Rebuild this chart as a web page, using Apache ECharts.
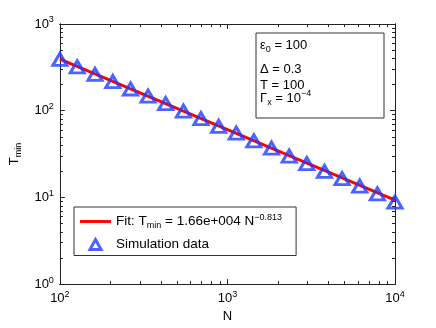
<!DOCTYPE html>
<html>
<head>
<meta charset="utf-8">
<script src="https://cdn.jsdelivr.net/npm/echarts@6/dist/echarts.min.js"></script>
<style>html,body{margin:0;padding:0;background:#fff}#main{width:436px;height:328px}</style>
</head>
<body>
<div id="main"></div>
<script>
// 模拟数据
var simN = [100, 127, 162, 207, 264, 336, 428, 546, 695, 886, 1129, 1438, 1833, 2336, 2976, 3793, 4833, 6158, 7848, 10000];
var simT = [390, 320, 262, 216, 178, 147, 121, 99, 81, 66, 55, 45, 37, 30, 24.5, 20, 16.5, 13.5, 11, 8.8];
// 拟合直线 (两端点)
var fitN = [100, 10000];
var fitT = [393, 9.3];
// 刻度
var xTicks = [100, 1000, 10000];
var yTicks = [1, 10, 100, 1000];
var xMinor = [200, 300, 400, 500, 600, 700, 800, 900, 2000, 3000, 4000, 5000, 6000, 7000, 8000, 9000];
var yMinor = [2, 3, 4, 5, 6, 7, 8, 9, 20, 30, 40, 50, 60, 70, 80, 90, 200, 300, 400, 500, 600, 700, 800, 900];

var font = 'Liberation Sans, Arial, sans-serif';
var blue = '#1e3cff';
var rich = {
    sup: { fontFamily: font, fontSize: 9, color: '#000', padding: [0, 0, 8, 0] },
    sub: { fontFamily: font, fontSize: 9, color: '#000', padding: [9, 0, 0, 0] }
};

function powLabel(v) {
    return '10{sup|' + Math.round(Math.log10(v)) + '}';
}

function logAxis(pos, min, max, ticks, len, label) {
    return {
        type: 'log',
        logBase: 10,
        min: min,
        max: max,
        position: pos,
        axisLine: { show: true, lineStyle: { color: '#222', width: 1 } },
        axisTick: { show: true, inside: true, length: len, customValues: ticks, lineStyle: { color: '#222', width: 1 } },
        axisLabel: label ? {
            show: true, customValues: ticks, formatter: powLabel, color: '#000',
            fontFamily: font, fontSize: 13, rich: rich, margin: 6
        } : { show: false },
        splitLine: { show: false },
        minorTick: { show: false }
    };
}

var chart = echarts.init(document.getElementById('main'));

var xMain = logAxis('bottom', 100, 10000, xTicks, 5, true);
xMain.name = 'N';
xMain.nameLocation = 'middle';
xMain.nameGap = 23;
xMain.nameTextStyle = { fontFamily: font, fontSize: 13, color: '#000' };

var yMain = logAxis('left', 1, 1000, yTicks, 5, true);
yMain.name = 'T{sub|min}';
yMain.nameLocation = 'middle';
yMain.nameGap = 33;
yMain.nameTextStyle = { fontFamily: font, fontSize: 13, color: '#000', rich: rich };

var option = {
    backgroundColor: '#fff',
    animation: false,
    grid: { left: 57, right: 41, top: 24, bottom: 38 },
    xAxis: [
        xMain,
        logAxis('bottom', 100, 10000, xMinor, 3, false),
        logAxis('top', 100, 10000, xTicks, 5, false),
        logAxis('top', 100, 10000, xMinor, 3, false)
    ],
    yAxis: [
        yMain,
        logAxis('left', 1, 1000, yMinor, 3, false),
        logAxis('right', 1, 1000, yTicks, 5, false),
        logAxis('right', 1, 1000, yMinor, 3, false)
    ],
    legend: {
        orient: 'vertical',
        left: 74,
        top: 207,
        padding: [6, 14, 4, 6],
        itemGap: 7,
        itemWidth: 31,
        itemHeight: 10,
        borderColor: '#333',
        borderWidth: 1,
        backgroundColor: '#fff',
        textStyle: { fontFamily: font, fontSize: 13.5, color: '#000', rich: rich },
        formatter: function (name) {
            return name === 'fit' ? 'Fit: T{sub|min} = 1.66e+004 N{sup|\u22120.813}' : 'Simulation data';
        },
        data: [
            { name: 'fit', icon: 'path://M0,0 H32 V3 H0 Z', itemStyle: { color: '#ff0000', borderWidth: 0 } },
            { name: 'sim', icon: 'path://M5,0 L10,9 L0,9 Z', itemStyle: { color: 'rgba(255,255,255,0)', borderColor: blue, borderWidth: 3 } }
        ]
    },
    graphic: [
        { type: 'rect', shape: { x: 256, y: 33, width: 128, height: 85 }, style: { fill: '#fff', stroke: '#333', lineWidth: 1 }, z: 10 },
        { type: 'text', x: 260, y: 45, z: 11, style: { text: '\u03b5{sub|0} = 100', font: '13px ' + font, fill: '#000', verticalAlign: 'middle', rich: rich } },
        { type: 'text', x: 260, y: 69, z: 11, style: { text: '\u0394 = 0.3', font: '13px ' + font, fill: '#000', verticalAlign: 'middle', rich: rich } },
        { type: 'text', x: 260, y: 85, z: 11, style: { text: 'T = 100', font: '13px ' + font, fill: '#000', verticalAlign: 'middle', rich: rich } },
        { type: 'text', x: 260, y: 98, z: 11, style: { text: '\u0393{sub|x} = 10{sup|\u22124}', font: '13px ' + font, fill: '#000', verticalAlign: 'middle', rich: rich } }
    ],
    series: [
        {
            name: 'fit',
            type: 'line',
            data: fitN.map(function (n, i) { return [n, fitT[i]]; }),
            symbol: 'none',
            lineStyle: { color: '#ff0000', width: 3 },
            itemStyle: { color: '#ff0000' },
            z: 2
        },
        {
            name: 'sim',
            type: 'scatter',
            data: simN.map(function (n, i) { return [n, simT[i]]; }),
            symbol: 'triangle',
            symbolSize: [14, 12],
            itemStyle: { color: 'rgba(255,255,255,0)', borderColor: blue, borderWidth: 3 },
            z: 3
        }
    ]
};

chart.setOption(option);
</script>
</body>
</html>
